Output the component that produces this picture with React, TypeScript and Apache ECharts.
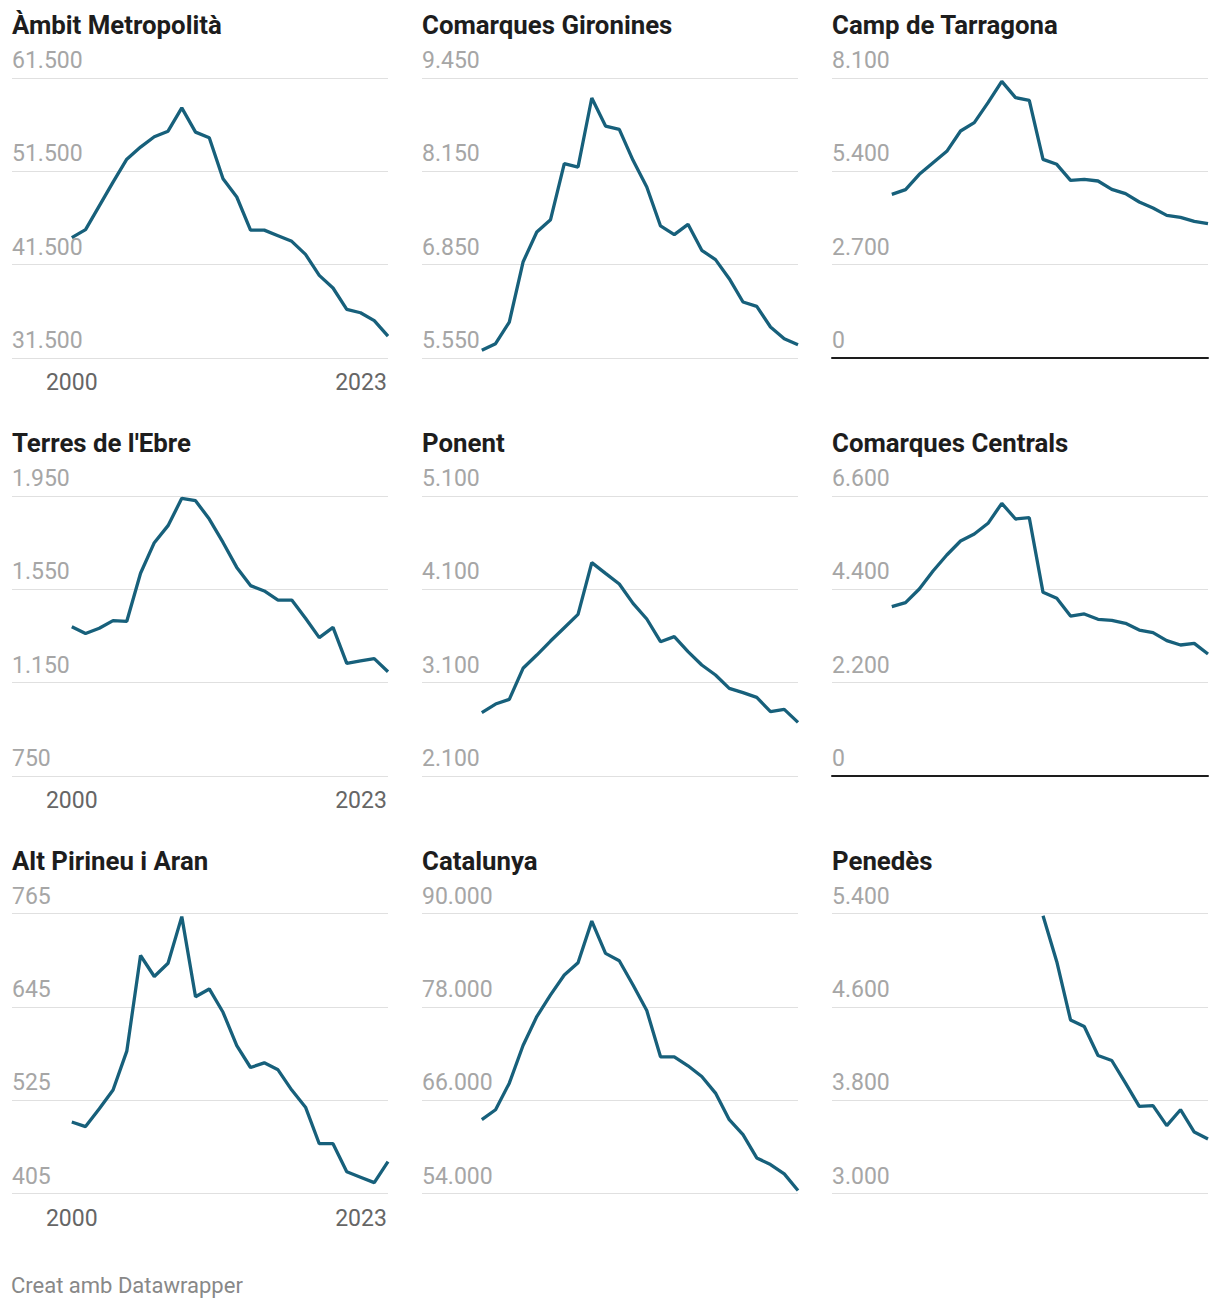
import React, { useEffect, useRef } from "react";
import * as echarts from "echarts";

const years = [2000, 2001, 2002, 2003, 2004, 2005, 2006, 2007, 2008, 2009, 2010, 2011, 2012, 2013, 2014, 2015, 2016, 2017, 2018, 2019, 2020, 2021, 2022, 2023];

const regionNames = [
  "Àmbit Metropolità",
  "Comarques Gironines",
  "Camp de Tarragona",
  "Terres de l'Ebre",
  "Ponent",
  "Comarques Centrals",
  "Alt Pirineu i Aran",
  "Catalunya",
  "Penedès",
];

const ambitMetropolita = [44400, 45250, 47800, 50350, 52800, 54100, 55200, 55800, 58300, 55700, 55100, 50700, 48750, 45200, 45200, 44600, 44000, 42600, 40350, 39000, 36700, 36350, 35500, 33850];
const comarquesGironines = [5657, 5750, 6051, 6887, 7305, 7477, 8257, 8210, 9171, 8781, 8735, 8303, 7932, 7389, 7268, 7412, 7050, 6920, 6655, 6330, 6270, 5982, 5819, 5736];
const campTarragona = [4735, 4870, 5313, 5651, 5979, 6567, 6808, 7386, 8004, 7531, 7454, 5747, 5603, 5140, 5169, 5120, 4879, 4754, 4513, 4339, 4127, 4069, 3954, 3886];
const terresEbre = [1390, 1361, 1383, 1416, 1413, 1619, 1750, 1823, 1940, 1930, 1851, 1751, 1644, 1566, 1543, 1504, 1504, 1426, 1343, 1387, 1233, 1243, 1253, 1197];
const ponent = [2779, 2871, 2921, 3254, 3396, 3546, 3689, 3832, 4386, 4271, 4157, 3950, 3782, 3539, 3593, 3432, 3289, 3182, 3039, 2993, 2943, 2789, 2814, 2675];
const comarquesCentrals = [3991, 4086, 4408, 4832, 5209, 5539, 5704, 5956, 6427, 6058, 6089, 4329, 4188, 3771, 3819, 3693, 3669, 3599, 3441, 3379, 3190, 3088, 3127, 2876];
const altPirineu = [497, 491, 514, 538, 588, 711, 684, 701, 761, 658, 668, 638, 595, 567, 573, 564, 538, 516, 469, 469, 433, 426, 419, 446];
const catalunya = [63490, 64770, 68190, 73030, 76750, 79530, 82090, 83670, 89020, 84870, 83930, 80810, 77520, 71570, 71570, 70420, 69050, 66910, 63490, 61570, 58570, 57720, 56520, 54380];
const penedes = [null, null, null, null, null, null, null, null, null, null, null, 5380, 4987, 4488, 4431, 4183, 4140, 3946, 3747, 3753, 3582, 3718, 3527, 3468];

const ticksAmbit = [31500, 41500, 51500, 61500];
const ticksGironines = [5550, 6850, 8150, 9450];
const ticksTarragona = [0, 2700, 5400, 8100];
const ticksEbre = [750, 1150, 1550, 1950];
const ticksPonent = [2100, 3100, 4100, 5100];
const ticksCentrals = [0, 2200, 4400, 6600];
const ticksPirineu = [405, 525, 645, 765];
const ticksCatalunya = [54000, 66000, 78000, 90000];
const ticksPenedes = [3000, 3800, 4600, 5400];

const xTickYears = [2000, 2023];
const footerText = "Creat amb Datawrapper";

const seriesValues = [ambitMetropolita, comarquesGironines, campTarragona, terresEbre, ponent, comarquesCentrals, altPirineu, catalunya, penedes];
const seriesTicks = [ticksAmbit, ticksGironines, ticksTarragona, ticksEbre, ticksPonent, ticksCentrals, ticksPirineu, ticksCatalunya, ticksPenedes];

const FONT = "Roboto, 'Noto Sans', sans-serif";
const LINE_COLOR = "#17607b";

function fmt(v: number) {
  return String(Math.round(v)).replace(/\B(?=(\d{3})+(?!\d))/g, ".");
}

export default function App() {
  const ref = useRef<HTMLDivElement>(null);
  useEffect(() => {
    if (!ref.current) return;
    const chart = echarts.init(ref.current, null, { renderer: "svg" });
    const colX = [12, 422, 832];
    const rowTop = [78, 496, 913.5];
    const gridW = 376;
    const gridH = 280;

    const grids: any[] = [];
    const xAxes: any[] = [];
    const yAxes: any[] = [];
    const series: any[] = [];
    const titles: any[] = [];

    regionNames.forEach((name, i) => {
      const col = i % 3;
      const row = Math.floor(i / 3);
      const ticks = seriesTicks[i];
      const zeroBased = ticks[0] === 0;
      grids.push({ left: colX[col], top: rowTop[row], width: gridW, height: gridH, containLabel: false });
      titles.push({
        text: name,
        left: colX[col],
        top: rowTop[row] - 66,
        padding: 0,
        textStyle: { fontFamily: FONT, fontSize: 25.8, fontWeight: "bold", color: "#1d1d1d" },
      });
      xAxes.push({
        type: "value",
        gridIndex: i,
        min: 1995.65,
        max: 2023,
        axisLine: { show: zeroBased, onZero: true, lineStyle: { color: "#1d1d1d", width: 2 } },
        axisTick: { show: false, customValues: xTickYears },
        splitLine: { show: false },
        axisLabel: {
          show: col === 0,
          customValues: xTickYears,
          showMaxLabel: true,
          showMinLabel: true,
          margin: 13,
          fontFamily: FONT,
          fontSize: 23,
          color: "#666666",
          formatter: (v: number) => (v === 2023 ? "{r|" + v + "}" : "{c|" + v + "}"),
          rich: {
            r: { fontFamily: FONT, fontSize: 23, color: "#666666", padding: [0, 54, 0, 0] },
            c: { fontFamily: FONT, fontSize: 23, color: "#666666" },
          },
        },
      });
      yAxes.push({
        type: "value",
        gridIndex: i,
        min: ticks[0],
        max: ticks[ticks.length - 1],
        axisLine: { show: false },
        axisTick: { show: false, customValues: ticks },
        splitLine: { show: true, lineStyle: { color: "#e0e0e0", width: 1 } },
        axisLabel: {
          inside: true,
          customValues: ticks,
          margin: 0,
          align: "left",
          verticalAlign: "bottom",
          padding: [0, 0, 6, 0],
          fontFamily: FONT,
          fontSize: 23,
          color: "#a6a6a6",
          formatter: (v: number) => fmt(v),
        },
      });
      series.push({
        type: "line",
        xAxisIndex: i,
        yAxisIndex: i,
        data: years.map((y, k) => [y, seriesValues[i][k]]),
        showSymbol: false,
        symbol: "none",
        connectNulls: false,
        lineStyle: { color: LINE_COLOR, width: 3.3 },
        z: 5,
      });
    });

    chart.setOption({
      animation: false,
      backgroundColor: "#ffffff",
      title: titles,
      grid: grids,
      xAxis: xAxes,
      yAxis: yAxes,
      series,
      graphic: [
        {
          type: "text",
          left: 11,
          top: 1274,
          style: { text: footerText, fontFamily: FONT, fontSize: 22, fill: "#888888" },
        },
      ],
    });
    return () => chart.dispose();
  }, []);
  return <div ref={ref} style={{ position: "absolute", left: 0, top: 0, width: 1220, height: 1310 }} />;
}
